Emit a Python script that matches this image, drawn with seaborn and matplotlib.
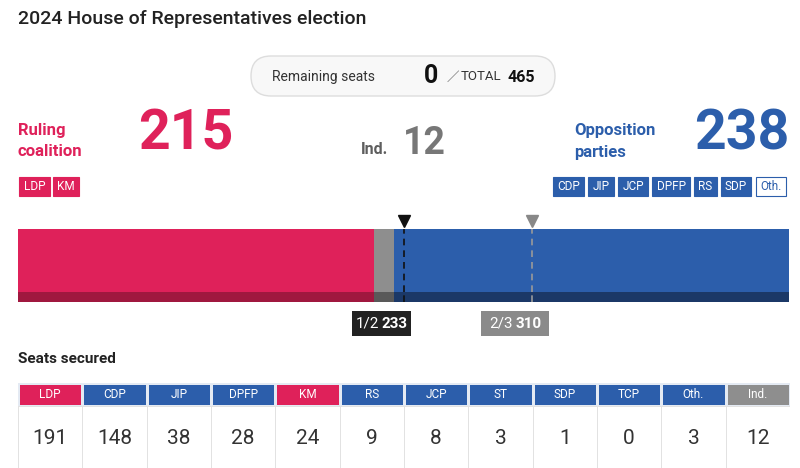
import matplotlib
matplotlib.use("Agg")
import matplotlib.pyplot as plt
import seaborn as sns
import numpy as np
from matplotlib.colors import ListedColormap
from matplotlib.patches import Rectangle, FancyBboxPatch

# ---------------- data ----------------
title = "2024 House of Representatives election"
total_seats = 465
remaining_seats = 0
bloc_names = ["Ruling coalition", "Ind.", "Opposition parties"]
bloc_seats = [215, 12, 238]
majority = 233
supermajority = 310
ruling_tags = ["LDP", "KM"]
opposition_tags = ["CDP", "JIP", "JCP", "DPFP", "RS", "SDP", "Oth."]
parties = ["LDP", "CDP", "JIP", "DPFP", "KM", "RS", "JCP", "ST", "SDP", "TCP", "Oth.", "Ind."]
party_seats = [191, 148, 38, 28, 24, 9, 8, 3, 1, 0, 3, 12]
party_group = [0, 1, 1, 1, 0, 1, 1, 1, 1, 1, 1, 2]  # 0 ruling, 1 opposition, 2 independent

# ---------------- style ----------------
PINK = "#DF215A"
BLUE = "#2C5EAB"
GRAY = "#8E8E8E"
DPINK = "#A0183F"
DBLUE = "#1B3867"
DGRAY = "#595959"
DARK = "#222222"

sns.set_style("white")
plt.rcParams["font.family"] = ["Roboto", "DejaVu Sans"]

W, H = 800, 468
fig = plt.figure(figsize=(W / 100, H / 100), dpi=100)


def frac(x0, y0, x1, y1):
    return [x0 / W, 1 - y1 / H, (x1 - x0) / W, (y1 - y0) / H]


ax = fig.add_axes([0, 0, 1, 1])
ax.set_xlim(0, W)
ax.set_ylim(H, 0)
ax.axis("off")

# title
ax.text(18, 19, title, fontsize=14, fontweight="medium", color=DARK, va="center", ha="left")

# remaining seats pill
pill = FancyBboxPatch((251, 56), 304, 40, boxstyle="round,pad=0,rounding_size=20",
                      facecolor="#f8f8f8", edgecolor="#dddddd", lw=1)
ax.add_patch(pill)
ax.text(272, 77, "Remaining seats", fontsize=10, color="#333333", va="center", ha="left")
ax.text(431, 76, f"{remaining_seats}", fontsize=18, fontweight="bold", color="#111111",
        va="center", ha="center")
ax.text(447, 77, "／", fontsize=9, color="#555555", va="center", ha="left",
        family=["Noto Sans CJK JP", "DejaVu Sans"])
ax.text(461, 77, "TOTAL", fontsize=9.5, color="#333333", va="center", ha="left")
ax.text(508, 77, f"{total_seats}", fontsize=11.5, fontweight="bold", color="#111111",
        va="center", ha="left")

# bloc headers
ax.text(18, 131, "Ruling", fontsize=12, fontweight="bold", color=PINK, va="center")
ax.text(18, 152, "coalition", fontsize=12, fontweight="bold", color=PINK, va="center")
ax.text(186, 134, f"{bloc_seats[0]}", fontsize=40, fontweight="bold", color=PINK,
        va="center", ha="center")
ax.text(361, 150, "Ind.", fontsize=11.5, fontweight="bold", color="#5e5e5e", va="center")
ax.text(424, 144, f"{bloc_seats[1]}", fontsize=27, fontweight="bold", color="#777777",
        va="center", ha="center")
ax.text(574, 131, "Opposition", fontsize=12, fontweight="bold", color=BLUE, va="center")
ax.text(574, 152, "parties", fontsize=12, fontweight="bold", color=BLUE, va="center")
ax.text(742, 134, f"{bloc_seats[2]}", fontsize=40, fontweight="bold", color=BLUE,
        va="center", ha="center")

# tags
ruling_tag_x = [(19, 50), (53, 79)]
opp_tag_x = [(553, 584), (588, 614), (618, 648), (652, 690), (694, 717), (721, 751), (756, 786)]
for (x0, x1), lab in zip(ruling_tag_x, ruling_tags):
    ax.add_patch(Rectangle((x0, 177), x1 - x0, 19, facecolor=PINK, edgecolor=PINK, lw=0.8))
    ax.text((x0 + x1) / 2, 186.5, lab, fontsize=8.5, color="white", ha="center", va="center")
for (x0, x1), lab in zip(opp_tag_x, opposition_tags):
    other = lab == "Oth."
    ax.add_patch(Rectangle((x0, 177), x1 - x0, 19, facecolor="white" if other else BLUE,
                           edgecolor=BLUE, lw=0.8))
    ax.text((x0 + x1) / 2, 186.5, lab, fontsize=8.5, color=BLUE if other else "white",
            ha="center", va="center")

# ---------------- stacked bar ----------------
cum = np.cumsum(bloc_seats)
ax_bar = fig.add_axes(frac(18, 229, 789, 292))
ax_strip = fig.add_axes(frac(18, 292, 789, 302))
for a, cols in ((ax_bar, [PINK, GRAY, BLUE]), (ax_strip, [DPINK, DGRAY, DBLUE])):
    for c, col in zip(cum[::-1], cols[::-1]):
        sns.barplot(x=[c], y=["seats"], orient="h", color=col, saturation=1, width=1,
                    linewidth=0, ax=a)
    a.set_xlim(0, total_seats)
    a.set_ylim(0.5, -0.5)
    a.axis("off")
    a.axvline(majority, color="#111111", ls=(0, (4, 3)), lw=1.2)
    a.axvline(supermajority, color="#9a9a9a", ls=(0, (4, 3)), lw=1.2)

px = 1 / 63.0
ax_bar.plot([majority], [-0.5 - 8 * px], marker="v", ms=8, color="#111111", clip_on=False)
ax_bar.plot([supermajority], [-0.5 - 8 * px], marker="v", ms=8, color="#888888", clip_on=False)

# threshold labels
ax.add_patch(Rectangle((352, 311), 59, 25, facecolor=DARK, edgecolor="none"))
ax.text(356, 324, "1/2", fontsize=11, color="white", va="center", ha="left")
ax.text(408, 324, f"{majority}", fontsize=11, fontweight="bold", color="white",
        va="center", ha="right")
ax.add_patch(Rectangle((481, 311), 68, 25, facecolor="#8a8a8a", edgecolor="none"))
ax.text(489, 324, "2/3", fontsize=11, color="white", va="center", ha="left")
ax.text(542, 324, f"{supermajority}", fontsize=11, fontweight="bold", color="white",
        va="center", ha="right")

# ---------------- table ----------------
ax.text(18, 359, "Seats secured", fontsize=11, fontweight="bold", color=DARK, va="center")

ax_h = fig.add_axes(frac(18, 383, 790, 406))
sns.heatmap(np.array([party_group]), cmap=ListedColormap([PINK, BLUE, GRAY]),
            vmin=-0.5, vmax=2.5, annot=np.array([parties]), fmt="",
            annot_kws=dict(color="white", fontsize=8.5), cbar=False, linewidths=0.8,
            linecolor="#e4eaf3", xticklabels=False, yticklabels=False, ax=ax_h)

ax_v = fig.add_axes(frac(18, 406, 790, 472))
sns.heatmap(np.array([party_seats]), cmap=ListedColormap(["white"]), annot=True, fmt="d",
            annot_kws=dict(color="#333333", fontsize=15), cbar=False, linewidths=0.7,
            linecolor="#e2e2e2", xticklabels=False, yticklabels=False, ax=ax_v)

fig.savefig("out.png", dpi=100)
